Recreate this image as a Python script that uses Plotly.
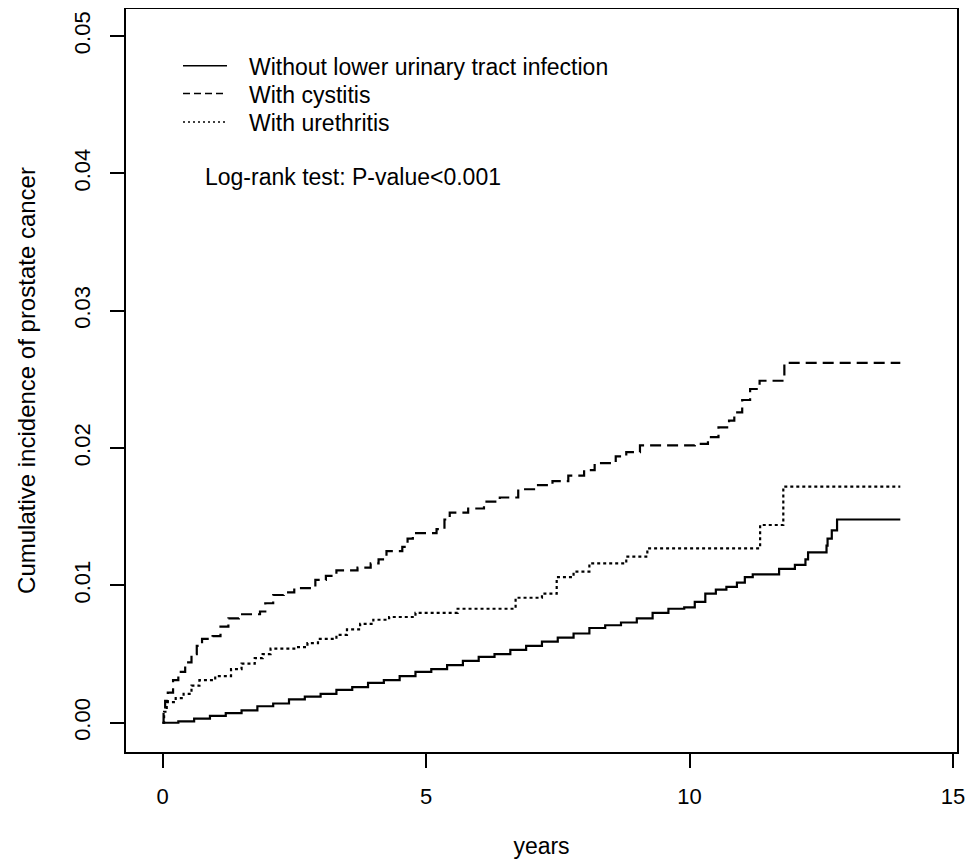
import plotly.graph_objects as go

# ---- data ----
series_names = ["Without lower urinary tract infection", "With cystitis", "With urethritis"]

t_none = [0, 0.3, 0.6, 0.9, 1.2, 1.5, 1.8, 2.1, 2.4, 2.7, 3.0, 3.3, 3.6, 3.9, 4.2, 4.5,
          4.8, 5.1, 5.4, 5.7, 6.0, 6.3, 6.6, 6.9, 7.2, 7.5, 7.8, 8.1, 8.4, 8.7, 9.0, 9.3,
          9.6, 9.9, 10.1, 10.3, 10.5, 10.7, 10.9, 11.05, 11.2, 11.7, 12.0, 12.2, 12.25,
          12.6, 12.62, 12.7, 12.8, 14.0]
v_none = [0, 0.0001, 0.0003, 0.0005, 0.0007, 0.0009, 0.0012, 0.0014, 0.0017, 0.0019,
          0.0021, 0.0024, 0.0026, 0.0029, 0.0031, 0.0034, 0.0037, 0.0039, 0.0042, 0.0045,
          0.0048, 0.0050, 0.0053, 0.0056, 0.0059, 0.0062, 0.0065, 0.0069, 0.0071, 0.0073,
          0.0076, 0.0080, 0.0083, 0.0084, 0.0088, 0.0094, 0.0097, 0.0099, 0.0102, 0.0106,
          0.0108, 0.0112, 0.0115, 0.0119, 0.0124, 0.0129, 0.0134, 0.0140, 0.0148, 0.0148]

t_cyst = [0, 0.02, 0.05, 0.1, 0.2, 0.3, 0.43, 0.55, 0.65, 0.75, 0.95, 1.1, 1.25, 1.45,
          1.85, 1.95, 2.1, 2.3, 2.5, 2.9, 3.1, 3.3, 3.7, 3.95, 4.1, 4.25, 4.55, 4.65, 4.75,
          5.2, 5.35, 5.45, 5.8, 6.1, 6.4, 6.75, 7.05, 7.4, 7.7, 8.0, 8.2, 8.6, 8.8, 9.06,
          10.1, 10.35, 10.55, 10.75, 10.85, 11.0, 11.15, 11.33, 11.8, 14.0]
v_cyst = [0, 0.0008, 0.0016, 0.0022, 0.0031, 0.0037, 0.0044, 0.0050, 0.0056, 0.0061,
          0.0063, 0.0070, 0.0076, 0.0079, 0.0081, 0.0087, 0.0093, 0.0095, 0.0098, 0.0104,
          0.0107, 0.0111, 0.0113, 0.0116, 0.0119, 0.0125, 0.0128, 0.0134, 0.0138, 0.0141,
          0.0148, 0.0153, 0.0156, 0.0161, 0.0164, 0.0170, 0.0173, 0.0176, 0.0180, 0.0184,
          0.0189, 0.0194, 0.0197, 0.0202, 0.0203, 0.0208, 0.0215, 0.0220, 0.0226, 0.0235,
          0.0243, 0.0249, 0.0262, 0.0262]

t_ureth = [0, 0.03, 0.08, 0.25, 0.4, 0.55, 0.7, 1.0, 1.3, 1.5, 1.75, 1.9, 2.05, 2.55,
           2.75, 2.95, 3.3, 3.5, 3.75, 4.0, 4.3, 4.8, 5.6, 6.7, 7.2, 7.48, 7.8, 8.1, 8.8,
           9.2, 11.34, 11.78, 14.0]
v_ureth = [0, 0.0008, 0.0015, 0.0018, 0.0021, 0.0027, 0.0031, 0.0034, 0.0039, 0.0043,
           0.0047, 0.0050, 0.0054, 0.0055, 0.0058, 0.0061, 0.0064, 0.0068, 0.0072, 0.0075,
           0.0077, 0.0080, 0.0083, 0.0091, 0.0094, 0.0106, 0.0110, 0.0116, 0.0121, 0.0127,
           0.0144, 0.0172, 0.0172]

x_ticks = [0, 5, 10, 15]
y_ticks = [0.00, 0.01, 0.02, 0.03, 0.04, 0.05]
y_tick_text = ["0.00", "0.01", "0.02", "0.03", "0.04", "0.05"]
annotation_text = "Log-rank test: P-value<0.001"

# ---- figure ----
FONT = "Liberation Sans, Arial, sans-serif"
OFF = 8                      # default page (body) margin of the html page
W, H = 979 - 2 * OFF, 867 - 2 * OFF
ML, MR, MT, MB = 118, 14, 1, 107
PW, PH = W - ML - MR, H - MT - MB

def px_x(p):                 # page pixel -> paper coordinate
    return (p - OFF - ML) / PW

def px_y(p):
    return (H - MB - (p - OFF)) / PH

styles = [
    dict(dash="solid", width=2.2),
    dict(dash="11px,6px", width=2.2),
    dict(dash="3px,3px", width=2.2),
]
legend_styles = [
    dict(dash="solid", width=1.4),
    dict(dash="7px,4px", width=1.4),
    dict(dash="2px,3px", width=1.4),
]

fig = go.Figure()
for name, xs, ys, st in zip(series_names, [t_none, t_cyst, t_ureth],
                            [v_none, v_cyst, v_ureth], styles):
    fig.add_trace(go.Scatter(
        x=xs, y=ys, mode="lines", name=name, line_shape="hv",
        line=dict(color="black", **st), showlegend=False,
    ))

# manual legend (R-style)
leg_line_y = [65.7, 93.5, 122]
shapes = []
annotations = []
for name, ly, st in zip(series_names, leg_line_y, legend_styles):
    shapes.append(dict(type="line", xref="paper", yref="paper",
                       x0=px_x(183), x1=px_x(227), y0=px_y(ly), y1=px_y(ly),
                       line=dict(color="black", **st)))
    annotations.append(dict(text=name, xref="paper", yref="paper",
                            x=px_x(247), y=px_y(ly + 1.5), xanchor="left", yanchor="middle",
                            showarrow=False, font=dict(size=23, color="black", family=FONT)))
annotations.append(dict(text=annotation_text, xref="paper", yref="paper",
                        x=px_x(203), y=px_y(177), xanchor="left", yanchor="middle",
                        showarrow=False, font=dict(size=23, color="black", family=FONT)))

fig.update_layout(
    width=W, height=H,
    margin=dict(l=ML, r=MR, t=MT, b=MB),
    paper_bgcolor="white", plot_bgcolor="white",
    font=dict(family=FONT, size=22, color="black"),
    shapes=shapes, annotations=annotations,
    showlegend=False,
)
fig.update_xaxes(
    range=[-0.693, 15.076], tickvals=x_ticks, ticktext=[str(v) for v in x_ticks],
    showgrid=False, zeroline=False, showline=True, mirror=True,
    linecolor="black", linewidth=1.5, ticks="outside", ticklen=14, tickwidth=1.5,
    tickcolor="black", ticklabelstandoff=10,
    title=dict(text="years", font=dict(size=23), standoff=56),
    automargin=False,
)
fig.update_yaxes(
    range=[-0.00213, 0.05197], tickvals=y_ticks, ticktext=y_tick_text, tickangle=-90,
    showgrid=False, zeroline=False, showline=True, mirror=True,
    linecolor="black", linewidth=1.5, ticks="outside", ticklen=14, tickwidth=1.5,
    tickcolor="black", ticklabelstandoff=11,
    title=dict(text="Cumulative incidence of prostate cancer", font=dict(size=24), standoff=28),
    automargin=False,
)

fig.write_html("out.html")
